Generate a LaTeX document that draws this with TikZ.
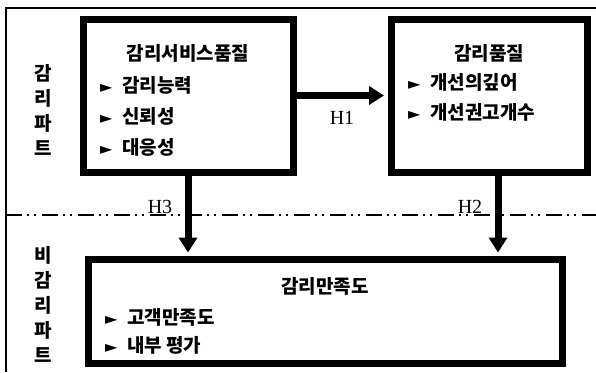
\documentclass[tikz,border=0pt]{standalone}
\usepackage{fontspec}
\usepackage{tikz}
\usetikzlibrary{arrows.meta}
\setmainfont{Liberation Serif}
\newfontfamily\kr{Noto Sans CJK KR}
\newfontfamily\symf{DejaVu Sans}
\newcommand\bul{\makebox[22pt][l]{\symf\fontsize{16}{16}\selectfont ►}}

\begin{document}
\begin{tikzpicture}[x=1pt,y=-1pt,
    box/.style={draw,line width=7pt,inner sep=0pt},
    ttl/.style={font=\kr\bfseries\fontsize{19}{20}\selectfont,inner sep=0pt},
    entry/.style={font=\kr\bfseries\fontsize{19}{20}\selectfont,inner sep=0pt,anchor=west},
    side/.style={font=\kr\bfseries\fontsize{19}{25}\selectfont,align=center,inner sep=0pt},
    hyp/.style={line width=7pt,-{Triangle[length=15pt,width=18pt]},shorten >=3.5pt},
    hlab/.style={font=\fontsize{20}{22}\selectfont,inner sep=0pt,anchor=base}]
      \useasboundingbox (0,0) rectangle (596,372);
      % Rahmen
      \draw[line width=1.5pt] (596,8) -- (6,8) -- (6,372);
      \draw[line width=1.6pt,dash pattern=on 16pt off 5pt on 2pt off 5pt on 2pt off 6pt] (6,215) -- (596,215);
      % Seiten
      \node[side] (partA) at (43,110) {감\\리\\파\\트};
      \node[side] (partB) at (43,304) {비\\감\\리\\파\\트};
      % Boxen
      \node[box,minimum width=210pt,minimum height=153pt] (svc) at (188,95.5) {};
      \node[box,minimum width=196pt,minimum height=153pt] (qual) at (489,95.5) {};
      \node[box,minimum width=474pt,minimum height=104pt] (sat) at (325.5,311.5) {};
      % Titel
      \node[ttl] (svcT) at (188,53) {감리서비스품질};
      \node[ttl] (qualT) at (489,53) {감리품질};
      \node[ttl] (satT) at (325,286) {감리만족도};
      % Punkte
      \foreach \t [count=\i] in {감리능력,신뢰성,대응성}
        \node[entry] (svc\i) at (100,{85+31*(\i-1)}) {\bul\t};
      \foreach \t [count=\i] in {개선의깊어,개선권고개수}
        \node[entry] (qual\i) at (408,{82+30*(\i-1)}) {\bul\t};
      \foreach \t [count=\i] in {고객만족도,내부 평가}
        \node[entry] (sat\i) at (105,{317+28*(\i-1)}) {\bul\t};
      % Pfeile
      \draw[hyp] (svc.east) -- (qual.west);
      \draw[hyp] (svc.south) -- (svc.south |- sat.north);
      \draw[hyp] ([xshift=9pt]qual.south) -- ([xshift=9pt]qual.south |- sat.north);
      \node[font=\fontsize{20}{22}\selectfont,inner sep=0pt] (h1) at (342,118) {H1};
      \node[hlab] (h3) at (160,213) {H3};
      \node[hlab] (h2) at (470,213) {H2};
    \end{tikzpicture}
\end{document}
